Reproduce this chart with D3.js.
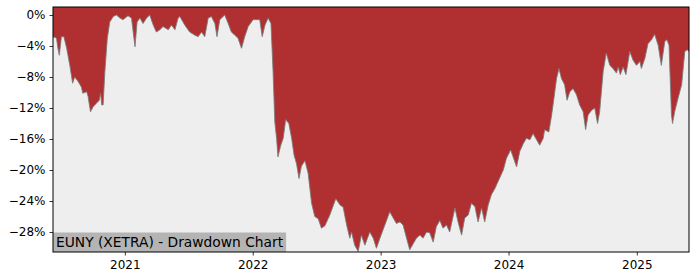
<!DOCTYPE html>
<html>
<head>
<meta charset="utf-8">
<script src="https://cdn.jsdelivr.net/npm/d3@7"></script>
<style>
    body { margin: 0; background: #fff; }
    svg { display: block; font-family: "DejaVu Sans", sans-serif; }
</style>
</head>
<body>
<svg id="chart" width="700" height="280"></svg>
<script>
// drawdown of EUNY
const dates = [
    "2020-06-10", "2020-06-12", "2020-06-20", "2020-06-24", "2020-06-28", "2020-07-04", "2020-07-11", "2020-07-19",
    "2020-07-28", "2020-08-05", "2020-08-11", "2020-08-21", "2020-08-30", "2020-09-03", "2020-09-14", "2020-09-18",
    "2020-09-25", "2020-10-03", "2020-10-12", "2020-10-20", "2020-10-24", "2020-10-27", "2020-10-31", "2020-11-05",
    "2020-11-12", "2020-11-19", "2020-11-29", "2020-12-08", "2020-12-18", "2020-12-27", "2021-01-10", "2021-01-20",
    "2021-01-30", "2021-02-05", "2021-02-13", "2021-02-22", "2021-03-04", "2021-03-13", "2021-03-23", "2021-04-01",
    "2021-04-11", "2021-04-20", "2021-05-05", "2021-05-14", "2021-05-24", "2021-06-02", "2021-06-07", "2021-06-21",
    "2021-07-05", "2021-07-20", "2021-07-29", "2021-08-08", "2021-08-17", "2021-08-27", "2021-09-05", "2021-09-15",
    "2021-09-21", "2021-09-29", "2021-10-13", "2021-10-23", "2021-11-01", "2021-11-11", "2021-11-20", "2021-11-30",
    "2021-12-09", "2021-12-19", "2022-01-02", "2022-01-12", "2022-01-21", "2022-01-28", "2022-02-05", "2022-02-14",
    "2022-02-22", "2022-02-28", "2022-03-05", "2022-03-10", "2022-03-14", "2022-03-22", "2022-03-29", "2022-04-05",
    "2022-04-14", "2022-04-22", "2022-04-29", "2022-05-06", "2022-05-13", "2022-05-20", "2022-05-30", "2022-06-08",
    "2022-06-18", "2022-06-27", "2022-07-07", "2022-07-16", "2022-07-26", "2022-08-09", "2022-08-26", "2022-09-07",
    "2022-09-16", "2022-09-26", "2022-10-05", "2022-10-10", "2022-10-19", "2022-10-29", "2022-11-07", "2022-11-17",
    "2022-12-01", "2022-12-11", "2022-12-20", "2022-12-30", "2023-01-13", "2023-01-27", "2023-02-06", "2023-02-15",
    "2023-02-25", "2023-03-06", "2023-03-16", "2023-03-25", "2023-04-04", "2023-04-13", "2023-04-23", "2023-05-02",
    "2023-05-12", "2023-05-21", "2023-05-31", "2023-06-09", "2023-06-19", "2023-06-28", "2023-07-08", "2023-07-17",
    "2023-08-01", "2023-08-10", "2023-08-20", "2023-08-29", "2023-09-08", "2023-09-17", "2023-09-27", "2023-10-06",
    "2023-10-16", "2023-10-25", "2023-11-04", "2023-11-13", "2023-11-23", "2023-12-02", "2023-12-17", "2023-12-26",
    "2024-01-07", "2024-01-14", "2024-01-24", "2024-02-02", "2024-02-12", "2024-02-21", "2024-03-02", "2024-03-11",
    "2024-03-21", "2024-03-30", "2024-04-09", "2024-04-13", "2024-04-25", "2024-05-03", "2024-05-07", "2024-05-17",
    "2024-05-24", "2024-05-31", "2024-06-09", "2024-06-16", "2024-06-24", "2024-07-03", "2024-07-13", "2024-07-22",
    "2024-08-01", "2024-08-08", "2024-08-15", "2024-08-25", "2024-09-03", "2024-09-11", "2024-09-17", "2024-09-27",
    "2024-10-06", "2024-10-16", "2024-10-25", "2024-11-04", "2024-11-09", "2024-11-15", "2024-11-23", "2024-12-01",
    "2024-12-12", "2024-12-21", "2024-12-31", "2025-01-10", "2025-01-14", "2025-01-24", "2025-02-02", "2025-02-12",
    "2025-02-21", "2025-03-03", "2025-03-12", "2025-03-22", "2025-03-28", "2025-04-03", "2025-04-10", "2025-04-13",
    "2025-04-19", "2025-04-29", "2025-05-09", "2025-05-18", "2025-05-25", "2025-05-30"
];

const drawdown = [
    -3.0, -2.8, -3.0, -4.3, -5.2, -2.8, -2.8, -4.3,
    -6.5, -8.8, -8.0, -8.6, -9.3, -10.1, -9.9, -10.5,
    -12.5, -11.8, -11.4, -11.0, -10.1, -11.6, -11.6, -7.3,
    -3.0, -0.9, -0.2, 0.0, -0.4, -0.6, -0.1, -0.4,
    -4.1, -0.9, -0.4, -1.1, -0.4, 0.0, -1.3, -2.2,
    -1.9, -1.5, -1.9, -1.3, -1.9, -0.4, -0.2, -1.3,
    -2.2, -2.6, -2.8, -2.2, -2.8, -0.4, -0.2, -1.1,
    -2.8, -0.6, 0.0, -1.1, -2.2, -2.6, -3.0, -4.3,
    -2.8, -1.5, -0.6, -0.6, -0.6, -2.8, -1.3, -0.4,
    -1.1, -7.3, -13.8, -15.9, -18.3, -16.8, -15.9, -13.5,
    -14.0, -15.9, -18.1, -19.2, -21.1, -19.5, -18.8, -20.4,
    -24.3, -26.0, -26.3, -27.5, -27.2, -25.8, -23.7, -24.5,
    -24.8, -27.1, -28.8, -28.0, -29.7, -30.5, -28.4, -29.7,
    -28.0, -28.8, -30.1, -28.8, -27.1, -25.4, -26.2, -26.9,
    -26.7, -27.1, -28.8, -30.3, -29.5, -28.8, -28.4, -28.8,
    -28.0, -28.1, -29.3, -27.3, -26.5, -27.5, -27.1, -28.0,
    -24.9, -26.7, -28.4, -26.2, -25.8, -24.3, -24.7, -26.7,
    -24.9, -26.7, -24.5, -23.2, -22.4, -21.5, -20.0, -18.5,
    -17.4, -18.3, -19.6, -17.6, -16.6, -15.9, -16.1, -15.3,
    -16.1, -16.8, -15.9, -14.8, -15.1, -12.9, -11.6, -8.2,
    -6.9, -8.2, -9.0, -11.0, -9.9, -9.5, -10.3, -11.6,
    -12.5, -14.8, -12.9, -12.3, -12.0, -14.0, -12.5, -7.3,
    -4.9, -6.5, -6.9, -7.5, -6.7, -7.7, -6.7, -7.7,
    -4.7, -5.8, -6.5, -6.0, -6.9, -5.6, -3.7, -3.2,
    -2.5, -3.9, -6.5, -3.4, -3.2, -3.9, -12.9, -14.0,
    -12.5, -10.7, -9.0, -4.7, -4.5, -4.7
];

const yTicks = [0, -4, -8, -12, -16, -20, -24, -28];
const xTicks = ["2021-01-01", "2022-01-01", "2023-01-01", "2024-01-01", "2025-01-01"];
const yearLabels = ["2021", "2022", "2023", "2024", "2025"];
const chartTitle = "EUNY (XETRA) - Drawdown Chart";

const parseDate = d3.timeParse("%Y-%m-%d");
const series = dates.map((d, i) => ({date: parseDate(d), value: drawdown[i]}));

const margin = {top: 7, right: 11, bottom: 28, left: 53};
const width = 700 - margin.left - margin.right;
const height = 280 - margin.top - margin.bottom;

const svg = d3.select("svg#chart");
const plot = svg.append("g").attr("transform", `translate(${margin.left},${margin.top})`);

const x = d3.scaleTime()
    .domain([parseDate("2020-06-10"), parseDate("2025-05-30")])
    .range([0, width]);

const y = d3.scaleLinear()
    .domain([-30.58, 1.03])
    .range([height, 0]);

plot.append("clipPath").attr("id", "plot-clip")
    .append("rect").attr("width", width).attr("height", height);

// grey background, the drawdown is filled red from the top down to the curve
plot.append("rect")
    .attr("width", width)
    .attr("height", height)
    .attr("fill", "#eeeeee");

const area = d3.area()
    .x(d => x(d.date))
    .y0(0)
    .y1(d => y(d.value));

const line = d3.line()
    .x(d => x(d.date))
    .y(d => y(d.value));

const marks = plot.append("g").attr("clip-path", "url(#plot-clip)");

marks.append("path")
    .datum(series)
    .attr("d", area)
    .attr("fill", "#b03031");

marks.append("path")
    .datum(series)
    .attr("d", line)
    .attr("fill", "none")
    .attr("stroke", "#7a7a7a")
    .attr("stroke-width", 1)
    .attr("stroke-opacity", 0.85);

// axes
const yAxis = d3.axisLeft(y)
    .tickValues(yTicks)
    .tickSize(3.5)
    .tickPadding(4)
    .tickFormat(v => (v < 0 ? "\u2212" + Math.abs(v) : v) + "%");

const xAxis = d3.axisBottom(x)
    .tickValues(xTicks.map(parseDate))
    .tickSize(3.5)
    .tickPadding(5)
    .tickFormat((d, i) => yearLabels[i]);

const gy = plot.append("g").call(yAxis);
const gx = plot.append("g").attr("transform", `translate(0,${height})`).call(xAxis);

[gx, gy].forEach(g => {
    g.select(".domain").remove();
    g.selectAll(".tick line").attr("stroke", "#000").attr("stroke-width", 0.8);
    g.selectAll(".tick text")
        .attr("fill", "#000")
        .attr("font-size", 12)
        .attr("font-family", "DejaVu Sans, sans-serif");
});

// title label in the lower left corner
const titleGroup = plot.append("g").attr("transform", `translate(0,${height})`);
const titleText = titleGroup.append("text")
    .attr("x", 3)
    .attr("y", -5)
    .attr("font-size", 13.8)
    .attr("fill", "#000")
    .text(chartTitle);

const textWidth = titleText.node().getComputedTextLength();
titleGroup.insert("rect", "text")
    .attr("x", 0)
    .attr("y", -19.5)
    .attr("width", textWidth + 6)
    .attr("height", 19.5)
    .attr("fill", "#b4b4b4");

// frame
plot.append("rect")
    .attr("width", width)
    .attr("height", height)
    .attr("fill", "none")
    .attr("stroke", "#000")
    .attr("stroke-width", 1);
</script>
</body>
</html>
